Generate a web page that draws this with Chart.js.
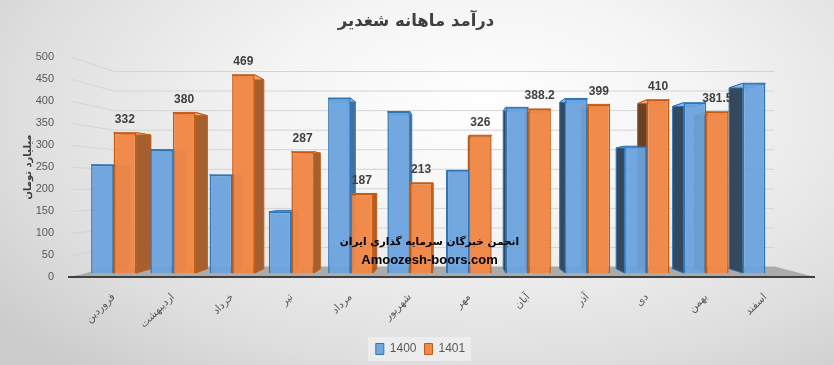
<!DOCTYPE html>
<html>
<head>
<meta charset="utf-8">
<script src="https://cdn.jsdelivr.net/npm/chart.js@4.4.1/dist/chart.umd.min.js"></script>
<style>
  html, body { margin: 0; padding: 0; }
  body {
    width: 834px; height: 365px; overflow: hidden;
    background: radial-gradient(ellipse 75% 95% at 58% 30%, #ffffff 0%, #f4f4f4 35%, #dedede 75%, #cbcbcb 100%);
  }
  #wrap { position: relative; width: 834px; height: 365px; }
</style>
</head>
<body>
<div id="wrap"><canvas id="c" width="834" height="365"></canvas></div>
<script>
// ---- data ----
const categories = ['فروردین', 'اردیبهشت', 'خرداد', 'تیر', 'مرداد', 'شهریور', 'مهر', 'آبان', 'آذر', 'دی', 'بهمن', 'اسفند'];
const seriesNames = ['1400', '1401'];
const values1400 = [256, 292, 232, 145, 414, 382, 243, 392, 413, 300, 403, 449];
const values1401 = [332, 380, 469, 287, 187, 213, 326, 388.2, 399, 410, 381.5, null];
const yTickMin = 0;
const yTickMax = 500;
const yTickStep = 50;
const chartTitle = 'درآمد ماهانه شغدیر';
const yAxisTitle = 'میلیارد تومان';
const watermarkLines = ['انجمن خبرگان سرمایه گذاری ایران', 'Amoozesh-boors.com'];

// ---- styling ----
const VP = { x: 450, y: 183 };   // perspective vanishing point
const DEPTH = 0.047;            // bar depth fraction toward VP
const WALL = 0.111;             // back wall depth fraction
const styles = [
  { front: 'rgba(106,163,221,0.95)', border: '#2e75b6', sideL: '#41719c', sideR: '#34495e', top: '#8dbbe8' },
  { front: 'rgba(240,135,70,0.97)', border: '#c55a11', sideL: '#a65f2f', sideR: '#6b4123', top: '#f4a771' }
];

const perspectivePlugin = {
  id: 'perspective',
  afterLayout(chart) {
    if (chart.legend) { chart.legend.left += 14; chart.legend.right += 14; }
  },
  beforeDraw(chart) {
    const ctx = chart.ctx;
    const lg = chart.legend;
    ctx.save();
    if (lg && lg.legendHitBoxes && lg.legendHitBoxes.length) {
      let minX = Infinity, maxX = -Infinity, minY = Infinity, maxY = -Infinity;
      lg.legendHitBoxes.forEach(h => {
        minX = Math.min(minX, h.left); maxX = Math.max(maxX, h.left + h.width);
        minY = Math.min(minY, h.top); maxY = Math.max(maxY, h.top + h.height);
      });
      ctx.fillStyle = 'rgba(240,240,240,0.75)';
      ctx.fillRect(minX - 8, minY - 6, maxX - minX + 14, maxY - minY + 12);
    }
    // chart title
    ctx.fillStyle = '#404040';
    ctx.font = 'bold 16.5px "DejaVu Sans", sans-serif';
    ctx.textAlign = 'center';
    ctx.textBaseline = 'middle';
    ctx.fillText(chartTitle, 416, 22);
    ctx.restore();
  },
  beforeDatasetsDraw(chart) {
    const ctx = chart.ctx;
    const ys = chart.scales.y;
    const area = chart.chartArea;
    const fx0 = area.left - 14, fx1 = area.right + 20;
    const back = (px, py) => [VP.x + (px - VP.x) * (1 - WALL), VP.y + (py - VP.y) * (1 - WALL)];
    ctx.save();
    // floor
    const y0 = ys.getPixelForValue(0);
    const b0 = back(fx0, y0), b1 = back(fx1, y0);
    ctx.fillStyle = '#ababab';
    ctx.beginPath();
    ctx.moveTo(fx0, y0); ctx.lineTo(b0[0], b0[1]); ctx.lineTo(b1[0], b1[1]); ctx.lineTo(fx1, y0); ctx.closePath();
    ctx.fill();
    // grid lines
    ctx.strokeStyle = '#d4d4d4';
    ctx.lineWidth = 1;
    ys.ticks.forEach(t => {
      if (t.value === 0) return;
      const py = ys.getPixelForValue(t.value);
      const a = back(fx0 + 2, py), c = back(fx1, py);
      ctx.beginPath();
      ctx.moveTo(fx0 + 2, py + 0.5);
      ctx.lineTo(a[0], a[1] + 0.5);
      ctx.lineTo(c[0], c[1] + 0.5);
      ctx.stroke();
    });
    // bar side / top faces
    chart.data.datasets.forEach((ds, di) => {
      const meta = chart.getDatasetMeta(di);
      const st = styles[di];
      meta.data.forEach((el, i) => {
        if (ds.data[i] === null || ds.data[i] === undefined) return;
        const w = el.width, left = el.x - w / 2, right = el.x + w / 2;
        const mv = (px, py) => [px + (VP.x - px) * DEPTH, py + (VP.y - py) * DEPTH];
        const onLeft = el.x < VP.x;
        const ex = onLeft ? right : left;
        const p1 = mv(ex, el.y), p2 = mv(ex, el.base);
        ctx.fillStyle = onLeft ? st.sideL : st.sideR;
        ctx.strokeStyle = st.border;
        ctx.lineWidth = 1;
        ctx.beginPath();
        ctx.moveTo(ex, el.y); ctx.lineTo(p1[0], p1[1]); ctx.lineTo(p2[0], p2[1]); ctx.lineTo(ex, el.base); ctx.closePath();
        ctx.fill(); ctx.stroke();
        const t1 = mv(left, el.y), t2 = mv(right, el.y);
        ctx.fillStyle = st.top;
        ctx.beginPath();
        ctx.moveTo(left, el.y); ctx.lineTo(right, el.y); ctx.lineTo(t2[0], t2[1]); ctx.lineTo(t1[0], t1[1]); ctx.closePath();
        ctx.fill(); ctx.stroke();
      });
    });
    ctx.restore();
  },
  afterDatasetsDraw(chart) {
    const ctx = chart.ctx;
    const ys = chart.scales.y;
    const area = chart.chartArea;
    ctx.save();
    // front floor edge
    const y0 = ys.getPixelForValue(0);
    ctx.strokeStyle = '#404040';
    ctx.lineWidth = 2;
    ctx.beginPath();
    ctx.moveTo(area.left - 16, y0); ctx.lineTo(area.right + 20, y0); ctx.stroke();
    // value labels for 1401
    const meta = chart.getDatasetMeta(1);
    ctx.fillStyle = '#404040';
    ctx.font = 'bold 12px "Liberation Sans", Arial, sans-serif';
    ctx.textAlign = 'center';
    ctx.textBaseline = 'middle';
    meta.data.forEach((el, i) => {
      const v = values1401[i];
      if (v === null) return;
      ctx.fillText(String(v), el.x, el.y - 13);
    });
    // watermark
    ctx.fillStyle = '#000000';
    ctx.font = 'bold 10.5px "DejaVu Sans", sans-serif';
    const cx = (area.left + area.right) / 2 - 10;
    ctx.fillText(watermarkLines[0], cx, 242);
    ctx.font = 'bold 13px "Liberation Sans", Arial, sans-serif';
    ctx.fillText(watermarkLines[1], cx, 260);
    ctx.restore();
  }
};

new Chart(document.getElementById('c'), {
  type: 'bar',
  data: {
    labels: categories,
    datasets: [
      { label: seriesNames[0], data: values1400, yAxisID: 'yb',
        backgroundColor: styles[0].front, borderColor: styles[0].border, borderWidth: 1.5 },
      { label: seriesNames[1], data: values1401, yAxisID: 'yb',
        backgroundColor: styles[1].front, borderColor: styles[1].border, borderWidth: 1.5 }
    ]
  },
  options: {
    responsive: false,
    animation: false,
    devicePixelRatio: 1,
    layout: { padding: { left: 18, right: 39, top: 57, bottom: 0 } },
    datasets: { bar: { categoryPercentage: 0.76, barPercentage: 1.0 } },
    plugins: {
      title: { display: false },
      legend: {
        position: 'bottom',
        labels: {
          color: '#595959', boxWidth: 8, boxHeight: 11, padding: 8,
          font: { family: '"Liberation Sans Narrow", "Liberation Sans", Arial, sans-serif', size: 12 },
          generateLabels(chart) {
            return chart.data.datasets.map((ds, i) => ({
              text: ds.label, fillStyle: styles[i].front, strokeStyle: styles[i].border,
              lineWidth: 1, datasetIndex: i, fontColor: '#595959'
            }));
          }
        }
      },
      tooltip: { enabled: false }
    },
    scales: {
      x: {
        offset: true,
        grid: { display: false },
        border: { display: false },
        ticks: {
          color: '#595959', minRotation: 45, maxRotation: 45, padding: 6,
          font: { family: '"DejaVu Sans", sans-serif', size: 10.5 }
        },
        afterFit(scale) { scale.height = 58; }
      },
      y: {
        position: 'left',
        min: yTickMin, max: yTickMax,
        grid: { display: false },
        border: { display: false },
        ticks: {
          stepSize: yTickStep, padding: 22, color: '#595959',
          font: { family: '"Liberation Sans", Arial, sans-serif', size: 11 }
        },
        title: {
          display: true, text: yAxisTitle, color: '#404040',
          font: { family: '"DejaVu Sans", sans-serif', size: 10, weight: 'bold' },
          padding: { top: 4, bottom: 0 }
        },
        afterFit(scale) { scale.width = 66; }
      },
      yb: {
        display: false,
        min: -9.38, max: 511.1
      }
    }
  },
  plugins: [perspectivePlugin]
});
</script>
</body>
</html>
